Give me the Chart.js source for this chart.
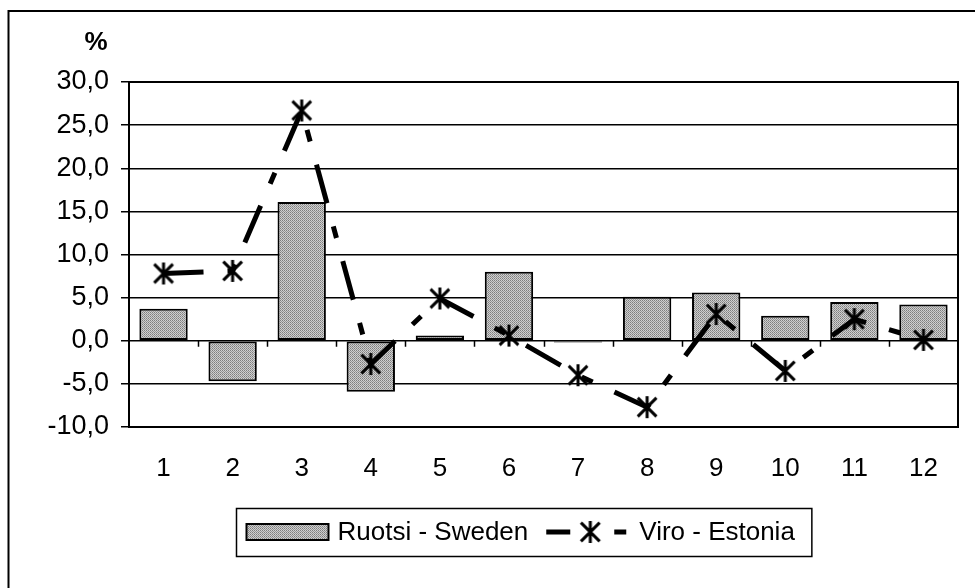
<!DOCTYPE html>
<html>
<head>
<meta charset="utf-8">
<script src="https://cdn.jsdelivr.net/npm/chart.js@4.4.0/dist/chart.umd.min.js"></script>
<style>
  html, body { margin: 0; padding: 0; background: #fff; }
  #wrap { width: 975px; height: 588px; position: relative; }
</style>
</head>
<body>
<div id="wrap"><canvas id="chart" width="975" height="588"></canvas></div>
<script>
// données (variation en %)
const categories = ['1', '2', '3', '4', '5', '6', '7', '8', '9', '10', '11', '12'];
const sweden = [3.7, -4.7, 16.1, -5.9, 0.6, 8.0, -0.2, 5.1, 5.6, 2.9, 4.5, 4.2];
const estonia = [7.8, 8.1, 26.7, -2.7, 4.9, 0.6, -4.0, -7.7, 3.1, -3.5, 2.5, 0.1];
const seriesNames = ['Ruotsi - Sweden', 'Viro - Estonia'];
const yMin = -10, yMax = 30, yStep = 5;
const unitLabel = '%';

const FONT = '"Liberation Sans", Arial, sans-serif';

// motif gris tramé pour les barres
function makeDither() {
    const pc = document.createElement('canvas');
    pc.width = 2; pc.height = 2;
    const g = pc.getContext('2d');
    g.fillStyle = '#7e7e7e'; g.fillRect(0, 0, 1, 1);
    g.fillStyle = '#d2d2d2'; g.fillRect(1, 0, 1, 1);
    g.fillStyle = '#cccccc'; g.fillRect(0, 1, 1, 1);
    g.fillStyle = '#969696'; g.fillRect(1, 1, 1, 1);
    return g.createPattern(pc, 'repeat');
}

// marqueur astérisque (comme Excel)
function makeAsterisk(r, lw) {
    const c = document.createElement('canvas');
    const s = Math.ceil(r * 2 + lw * 2);
    c.width = s; c.height = s;
    const g = c.getContext('2d');
    g.strokeStyle = '#000';
    g.lineWidth = lw;
    const m = s / 2, d = r * 0.85;
    g.beginPath();
    g.moveTo(m, m - r); g.lineTo(m, m + r);
    g.moveTo(m - d, m - d); g.lineTo(m + d, m + d);
    g.moveTo(m - d, m + d); g.lineTo(m + d, m - d);
    g.stroke();
    return c;
}

const dither = makeDither();
const asterisk = makeAsterisk(11, 3);
const lineDash = [40, 24, 12, 24];

const decorPlugin = {
    id: 'decor',
    beforeDatasetsDraw(chart) {
        const { ctx, chartArea, scales } = chart;
        // petites graduations sur l'axe zéro
        const y0 = scales.y.getPixelForValue(0);
        const step = (chartArea.right - chartArea.left) / categories.length;
        ctx.save();
        ctx.strokeStyle = '#000';
        ctx.lineWidth = 1.5;
        ctx.beginPath();
        for (let i = 1; i < categories.length; i++) {
            const x = Math.round(chartArea.left + step * i) + 0.5;
            ctx.moveTo(x, y0);
            ctx.lineTo(x, y0 + 6);
        }
        ctx.stroke();
        ctx.restore();
    },
    afterDraw(chart) {
        const { ctx, chartArea } = chart;
        ctx.save();
        // cadre de la zone de tracé
        ctx.strokeStyle = '#000';
        ctx.lineWidth = 2;
        ctx.strokeRect(chartArea.left, chartArea.top, chartArea.right - chartArea.left, chartArea.bottom - chartArea.top);

        // cadre extérieur (coupé à droite et en bas)
        ctx.beginPath();
        ctx.moveTo(8.5, 700);
        ctx.lineTo(8.5, 11);
        ctx.lineTo(1000, 11);
        ctx.stroke();

        // unité
        ctx.fillStyle = '#000';
        ctx.font = 'bold 26px ' + FONT;
        ctx.textAlign = 'center';
        ctx.textBaseline = 'middle';
        ctx.fillText(unitLabel, 96, 43);

        // légende
        ctx.font = '26px ' + FONT;
        ctx.textAlign = 'left';
        const w1 = ctx.measureText(seriesNames[0]).width;
        const w2 = ctx.measureText(seriesNames[1]).width;
        const boxW = 10 + 82 + 9 + w1 + 18 + 80 + 13 + w2 + 17;
        const bx = Math.round(524 - boxW / 2) + 0.5;
        const by = 508.5, bh = 48, cy = 532;
        ctx.lineWidth = 1.5;
        ctx.strokeRect(bx, by, boxW, bh);

        let x = bx + 10;
        ctx.fillStyle = dither;
        ctx.fillRect(x, cy - 8, 82, 16);
        ctx.lineWidth = 2;
        ctx.strokeRect(x, cy - 8, 82, 16);
        x += 82 + 9;
        ctx.fillStyle = '#000';
        ctx.fillText(seriesNames[0], x, cy + 1);
        x += w1 + 18;

        ctx.lineWidth = 5;
        ctx.setLineDash([24, 44, 12]);
        ctx.beginPath();
        ctx.moveTo(x, cy);
        ctx.lineTo(x + 80, cy);
        ctx.stroke();
        ctx.setLineDash([]);
        ctx.drawImage(asterisk, x + 44 - asterisk.width / 2, cy - asterisk.height / 2);
        x += 80 + 13;
        ctx.fillText(seriesNames[1], x, cy + 1);
        ctx.restore();
    }
};

const ctx = document.getElementById('chart').getContext('2d');
new Chart(ctx, {
    data: {
        labels: categories,
        datasets: [
            {
                type: 'line',
                label: seriesNames[1],
                data: estonia,
                order: 0,
                borderColor: '#000',
                borderWidth: 5,
                borderDash: lineDash,
                borderCapStyle: 'butt',
                tension: 0,
                fill: false,
                pointStyle: asterisk,
                pointRadius: 11,
            },
            {
                type: 'bar',
                label: seriesNames[0],
                data: sweden,
                order: 1,
                backgroundColor: dither,
                borderColor: '#000',
                borderWidth: 2,
                borderSkipped: false,
                categoryPercentage: 1,
                barPercentage: 0.7,
            },
        ],
    },
    options: {
        responsive: false,
        devicePixelRatio: 1,
        animation: false,
        layout: { padding: { left: 0, right: 17, top: 82, bottom: 0 } },
        plugins: {
            legend: { display: false },
            tooltip: { enabled: false },
        },
        scales: {
            x: {
                offset: true,
                afterFit: (s) => { s.height = 161; },
                grid: { display: false, drawTicks: false },
                border: { color: '#000', width: 2 },
                ticks: { padding: 26, color: '#000', maxRotation: 0, font: { family: FONT, size: 26 } },
            },
            y: {
                min: yMin,
                max: yMax,
                afterFit: (s) => { s.width = 129; },
                ticks: {
                    stepSize: yStep,
                    padding: 12,
                    color: '#000',
                    font: { family: FONT, size: 27 },
                    callback: (v) => v.toFixed(1).replace('.', ','),
                },
                grid: { color: '#000', lineWidth: 1.5, tickLength: 8, tickColor: '#000', tickWidth: 1.5 },
                border: { color: '#000', width: 2 },
            },
        },
    },
    plugins: [decorPlugin],
});
</script>
</body>
</html>
